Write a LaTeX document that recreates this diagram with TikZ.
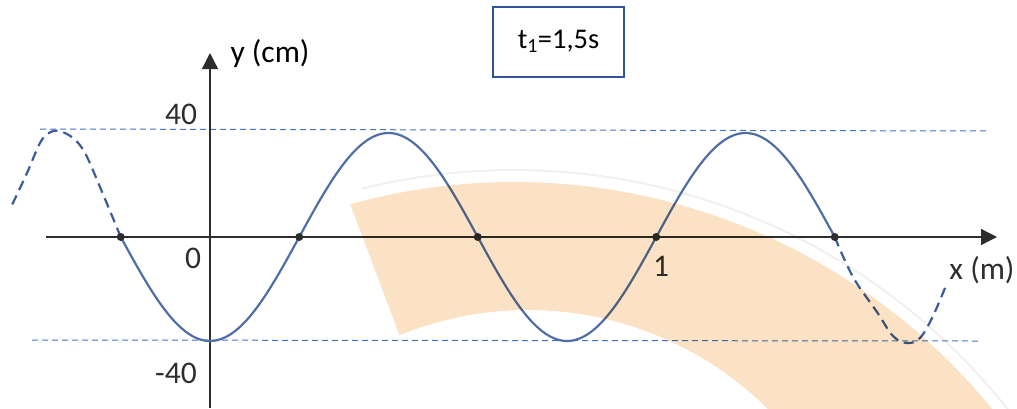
\documentclass[tikz,border=0pt]{standalone}
\usepackage{fontspec}
\setmainfont{Carlito}
\usetikzlibrary{arrows.meta}
\definecolor{wave}{RGB}{79,110,168}
\definecolor{wavedash}{RGB}{62,92,152}
\definecolor{guide}{RGB}{68,114,196}
\definecolor{axisc}{RGB}{45,45,45}
\definecolor{boxc}{RGB}{47,85,151}
\definecolor{band}{RGB}{251,226,196}
\definecolor{bandedge}{RGB}{242,240,236}
\begin{document}
\begin{tikzpicture}[x=1pt,y=-1pt,
  lbl/.style={font=\fontsize{31.5}{36}\selectfont, text=black!82, inner sep=0pt, anchor=base},
  dot/.style={circle, fill=axisc, inner sep=0pt, minimum size=8pt},
  axisline/.style={draw=axisc, line width=1.3pt, -{Triangle[length=16pt,width=16pt]}},
  guideline/.style={draw=guide, line width=1pt, dash pattern=on 6pt off 4pt},
  wavesolid/.style={draw=wave, line width=2.2pt},
  wavedashed/.style={draw=wavedash, line width=2.2pt, dash pattern=on 10pt off 6pt}]
\useasboundingbox (0,0) rectangle (1017,408);
% faint watermark rim
\draw[bandedge, line width=2pt] plot[domain=104:30, samples=100] ({514+629*cos(\x)},{799-629*sin(\x)});
% guide lines
\coordinate (gt1) at (40,129); \coordinate (gt2) at (990,131);
\coordinate (gb1) at (32,340); \coordinate (gb2) at (980,341);
\draw[guideline] (gt1) -- (gt2);
\draw[guideline] (gb1) -- (gb2);
% axes
\coordinate (xs) at (46,237); \coordinate (xe) at (997,237);
\coordinate (ys) at (210,408); \coordinate (ye) at (210,53);
\draw[axisline] (xs) -- (xe);
\draw[axisline] (ys) -- (ye);
% wave
\draw[wavesolid] plot[domain=120.75:834.75, samples=240] (\x, {237+104*cos((\x-210)/357*360)});
\draw[wavedashed] plot[smooth, tension=0.6] coordinates {(120.75,237) (100,187) (85,153) (73,138) (59,131) (49,133) (40,143) (27,173) (12,205)};
\draw[wavedashed] plot[smooth, tension=0.6] coordinates {(834.75,237) (853,277) (877,312) (893,336) (907,343) (920,338) (933,316) (947,283)};
% zero-crossing dots
\node[dot] (z1) at (120.75,237) {};
\node[dot] (z2) at (299.25,237) {};
\node[dot] (z3) at (477.75,237) {};
\node[dot] (z4) at (656.25,237) {};
\node[dot] (z5) at (834.75,237) {};
% labels
\node[lbl] (l40) at (181,124) {40};
\node[lbl] (l0) at (193,268) {0};
\node[lbl] (lm40) at (176,383) {-40};
\node[lbl] (l1) at (661,276) {1};
\node[lbl, text=black] (ly) at (270,62) {y (cm)};
\node[lbl] (lx) at (982,279) {x (m)};
% time box
\node[draw=boxc, line width=1.2pt, minimum width=131pt, minimum height=70pt,
      inner sep=0pt, text height=13pt, text depth=0pt,
      font=\fontsize{28.5}{32}\selectfont, text=black] (tbox) at (558.5,42) {t\textsubscript{1}=1,5s};
% watermark band
\begin{scope}[blend mode=multiply]
\fill[band] plot[domain=105.4:30, samples=120] ({514+617*cos(\x)},{799-617*sin(\x)})
  -- plot[domain=30:112.2, samples=120] ({528+340*cos(\x)},{650-340*sin(\x)}) -- cycle;
\end{scope}
\end{tikzpicture}
\end{document}
